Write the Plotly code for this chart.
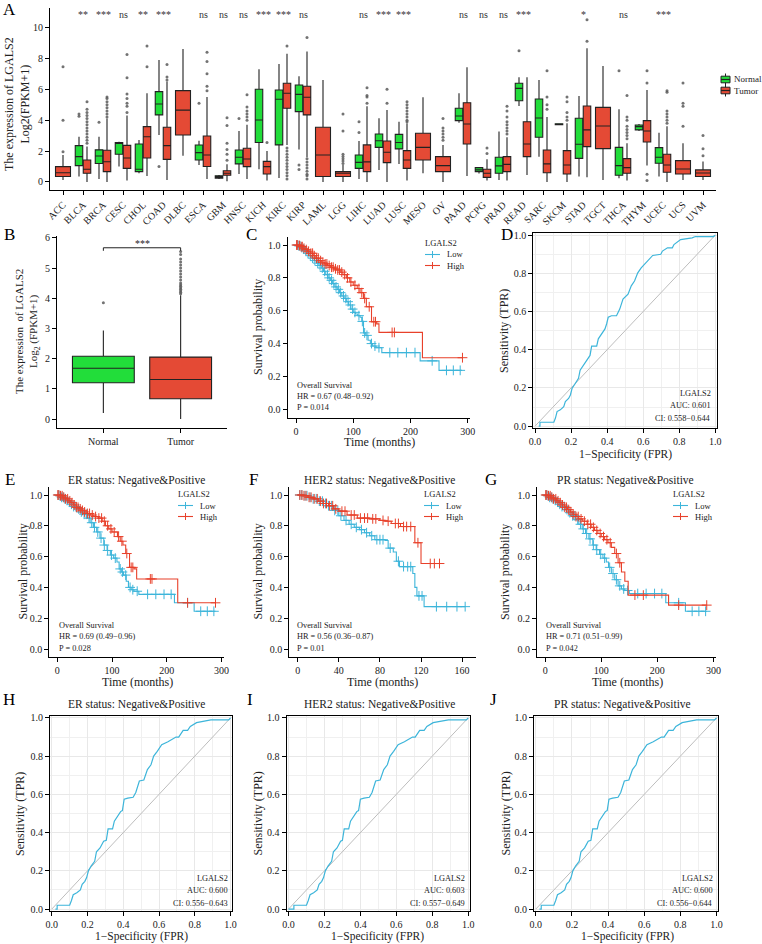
import numpy as np
import plotly.graph_objects as go

W, H = 762, 944
FONT = "Liberation Serif"
GREEN = "#22DD3A"
RED = "#E44A35"
BLUE = "#3DB5DA"
KRED = "#E8412B"

# ---------------- Panel A data ----------------
cancers = ["ACC", "BLCA", "BRCA", "CESC", "CHOL", "COAD", "DLBC", "ESCA", "GBM", "HNSC", "KICH",
           "KIRC", "KIRP", "LAML", "LGG", "LIHC", "LUAD", "LUSC", "MESO", "OV", "PAAD", "PCPG",
           "PRAD", "READ", "SARC", "SKCM", "STAD", "TGCT", "THCA", "THYM", "UCEC", "UCS", "UVM"]
sig = ["", "**", "***", "ns", "**", "***", "", "ns", "ns", "ns", "***", "***", "ns", "", "", "ns",
       "***", "***", "", "", "ns", "ns", "ns", "***", "", "", "*", "", "ns", "", "***", "", ""]

# normal boxes (None = no normal samples)
n_q1 = [None, 1.06, 1.2, 1.79, 0.67, 4.34, None, 1.42, 0.25, 1.17, 2.55, 2.4, 4.55, None, None, 0.88,
        2.24, 2.14, None, None, 3.97, 0.67, 0.56, 5.26, 2.89, 3.7, 1.53, None, 0.43, 3.37, 1.21, None, None]
n_med = [None, 1.64, 1.68, 2.5, 0.82, 5.05, None, 1.9, 0.33, 1.6, 4.01, 5.35, 5.67, None, None, 1.27,
         2.67, 2.55, None, None, 4.27, 0.78, 1.04, 6.06, 4.14, 3.73, 2.44, None, 1.06, 3.58, 1.6, None, None]
n_q3 = [None, 2.35, 2.08, 2.55, 2.46, 5.85, None, 2.39, 0.4, 2.07, 6.0, 5.95, 6.28, None, None, 1.75,
        3.1, 3.08, None, None, 4.77, 0.93, 1.6, 6.39, 5.37, 3.76, 4.12, None, 2.24, 3.69, 2.22, None, None]
n_lo = [None, 0.35, 0.2, 1.0, 0.56, 3.04, None, 1.1, 0.2, 0.52, 0.82, 0.25, 2.1, None, None, 0.2,
        0.78, 1.17, None, None, 3.84, 0.55, 0.13, 4.92, 1.64, 3.7, 0.35, None, 0.24, 3.3, 0.35, None, None]
n_hi = [None, 2.93, 2.93, 2.6, 2.72, 7.9, None, 2.67, 0.45, 3.3, 7.3, 7.64, 6.85, None, None, 2.65,
        4.12, 3.9, None, None, 5.74, 0.95, 3.26, 6.77, 6.6, 3.76, 5.57, None, 4.7, 3.75, 3.19, None, None]
n_out = [[], [4.25, 4.4], [3.86], [], [], [1.0], [], [5.1], [], [4.1], [], [], [0.8, 1.1], [], [],
         [3.2, 3.9], [], [], [], [], [], [], [], [8.5], [], [], [], [], [7.2], [], [], [], []]

# tumor boxes
t_q1 = [0.35, 0.56, 0.67, 0.88, 1.55, 1.46, 3.04, 1.0, 0.43, 0.99, 0.52, 4.77, 4.34, 0.35, 0.35, 0.67,
        1.25, 0.88, 1.42, 0.67, 2.46, 0.3, 0.67, 1.64, 0.6, 0.52, 2.29, 2.16, 0.56, 2.59, 0.63, 0.52, 0.35]
t_med = [0.6, 0.82, 1.31, 1.55, 2.93, 2.35, 4.65, 1.75, 0.56, 1.49, 0.99, 5.74, 5.48, 1.75, 0.56, 1.3,
         1.92, 1.42, 2.24, 1.06, 3.75, 0.56, 1.14, 2.46, 1.17, 1.1, 3.37, 3.62, 0.93, 3.3, 1.1, 0.84, 0.58]
t_q3 = [0.99, 1.42, 2.05, 2.37, 3.58, 3.54, 5.91, 2.98, 0.73, 2.18, 1.33, 6.39, 6.2, 3.54, 0.67, 2.4,
        2.65, 2.03, 3.15, 1.64, 5.13, 0.82, 1.64, 3.9, 2.07, 2.03, 4.92, 4.83, 1.51, 3.97, 1.79, 1.38, 0.78]
t_lo = [0.13, 0.0, 0.0, 0.1, 0.39, 0.13, 1.7, 0.2, 0.05, 0.2, 0.1, 2.4, 1.6, 0.0, 0.0, 0.0,
        0.0, 0.1, 0.56, 0.0, 0.39, 0.1, 0.1, 0.45, 0.0, 0.0, 0.3, 0.13, 0.1, 1.06, 0.0, 0.13, 0.13]
t_hi = [1.75, 2.3, 4.1, 4.3, 5.74, 6.5, 8.6, 5.5, 1.15, 3.7, 2.0, 8.3, 8.45, 6.6, 1.1, 4.9,
        4.66, 3.8, 5.48, 2.4, 7.42, 1.47, 2.9, 6.77, 4.2, 3.8, 8.65, 7.5, 2.5, 5.95, 3.6, 2.5, 1.32]
t_out = [[1.96, 4.0, 7.46],
         [2.5, 2.7, 2.9, 3.1, 3.3, 3.5, 3.7, 3.9, 4.1, 4.3, 4.5, 4.7, 5.2],
         [4.2, 4.4, 4.6, 4.8, 5.0, 5.2, 5.4, 5.5],
         [4.5, 4.9, 5.1, 5.4, 5.7, 6.75, 8.25],
         [7.45, 8.8],
         [6.6, 6.8, 7.6],
         [],
         [5.9, 6.2, 7.0, 7.8, 8.4],
         [1.4, 1.8, 2.1, 2.5, 3.65, 4.15],
         [4.0, 4.2, 4.4, 4.6, 4.85, 5.65],
         [2.55],
         [0.2, 0.4, 0.6, 0.8, 1.0, 1.2, 1.4, 1.6, 1.8, 2.0, 2.2, 8.8],
         [0.2, 0.4, 0.5, 0.7, 0.9, 1.1, 1.3, 1.5, 9.35],
         [],
         [1.2, 1.35, 1.5, 1.65, 1.8, 3.3, 4.4],
         [5.1, 5.5, 5.6, 6.1],
         [5.1, 6.0],
         [3.9, 4.0, 4.2, 4.4, 4.6, 4.8, 5.0, 5.2],
         [],
         [2.7, 2.9, 3.1, 3.3, 3.5, 4.1],
         [],
         [1.85, 2.2],
         [3.1, 3.3, 3.5, 3.7, 3.9, 4.2, 4.6, 4.9],
         [],
         [4.7, 5.0, 5.5, 7.2],
         [4.0, 4.2, 4.5, 5.2, 5.5],
         [9.1, 10.5],
         [],
         [2.8, 3.0, 3.2, 3.4, 3.6, 4.0, 4.2, 5.6],
         [0.1, 0.5, 6.4, 7.2],
         [3.8, 4.0, 4.2, 4.4, 4.6, 5.8, 5.9],
         [3.6, 4.9, 5.1, 6.4],
         [1.7, 2.15, 3.0]]

# ---------------- Panel B data ----------------
b_groups = ["Normal", "Tumor"]
b_q1 = [1.2, 0.67]
b_med = [1.68, 1.31]
b_q3 = [2.08, 2.05]
b_lo = [0.2, 0.0]
b_hi = [2.93, 4.1]
b_out = [[3.85], [4.15, 4.2, 4.25, 4.3, 4.35, 4.4, 4.45, 4.5, 4.6, 4.7, 4.8, 4.9, 5.0, 5.1, 5.2, 5.3, 5.45, 5.55]]

# ---------------- KM data ----------------
c_low_t = [0, 4, 8, 12, 16, 20, 24, 28, 32, 36, 40, 44, 48, 52, 56, 60, 64, 68, 72, 76, 80, 84, 88, 92, 96,
           100, 104, 108, 112, 115, 118, 122, 126, 130, 134, 140, 150, 217, 250, 290]
c_low_s = [1.0, 0.995, 0.985, 0.975, 0.965, 0.95, 0.935, 0.92, 0.905, 0.89, 0.875, 0.86, 0.84, 0.82, 0.8,
           0.785, 0.765, 0.745, 0.73, 0.71, 0.69, 0.675, 0.655, 0.635, 0.61, 0.59, 0.58, 0.57, 0.56, 0.535,
           0.465, 0.45, 0.42, 0.4, 0.385, 0.375, 0.345, 0.295, 0.237, 0.237]
c_low_c = [2, 5, 7, 10, 13, 17, 21, 25, 29, 33, 38, 42, 46, 50, 55, 58, 62, 66, 70, 74, 78, 83, 87, 91, 95,
           99, 103, 110, 116, 120, 124, 132, 138, 145, 164, 178, 193, 208, 238, 263, 275, 287]
c_high_t = [0, 4, 8, 12, 16, 20, 25, 30, 35, 40, 45, 50, 55, 60, 66, 72, 77, 82, 88, 94, 100, 107, 112,
            118, 123, 132, 141, 145, 221, 291]
c_high_s = [1.0, 0.997, 0.99, 0.98, 0.972, 0.962, 0.95, 0.935, 0.92, 0.905, 0.895, 0.885, 0.875, 0.865,
            0.855, 0.848, 0.835, 0.82, 0.8, 0.775, 0.755, 0.735, 0.71, 0.675, 0.624, 0.533, 0.52, 0.468,
            0.314, 0.314]
c_high_c = [1, 3, 6, 9, 11, 14, 18, 22, 26, 29, 32, 36, 39, 43, 47, 51, 54, 58, 62, 65, 69, 73, 76, 80, 85,
            90, 96, 103, 110, 115, 120, 128, 136, 139, 168, 172, 291]

e_low_t = [0, 4, 8, 12, 16, 20, 25, 30, 36, 42, 48, 54, 60, 66, 72, 78, 85, 91, 97, 103, 109, 113, 117,
           121, 126, 130, 135, 140, 149, 214, 250, 289]
e_low_s = [1.0, 0.995, 0.985, 0.975, 0.965, 0.955, 0.94, 0.925, 0.91, 0.89, 0.875, 0.85, 0.82, 0.79,
           0.76, 0.72, 0.675, 0.64, 0.61, 0.59, 0.565, 0.52, 0.5, 0.48, 0.44, 0.4, 0.385, 0.375, 0.355,
           0.3, 0.245, 0.245]
e_low_c = [2, 5, 8, 11, 14, 18, 22, 26, 30, 34, 39, 44, 49, 53, 58, 63, 68, 74, 80, 86, 92, 99, 106, 115,
           119, 125, 133, 138, 146, 165, 180, 195, 208, 238, 262, 274, 286]
e_high_t = [0, 5, 10, 15, 20, 25, 30, 35, 40, 45, 50, 55, 60, 67, 75, 82, 88, 94, 100, 110, 115, 120,
            125, 132, 140, 145, 220, 289]
e_high_s = [1.0, 0.995, 0.985, 0.975, 0.962, 0.95, 0.935, 0.92, 0.91, 0.9, 0.89, 0.88, 0.87, 0.86, 0.85,
            0.83, 0.8, 0.78, 0.76, 0.73, 0.7, 0.675, 0.62, 0.53, 0.52, 0.455, 0.3, 0.3]
e_high_c = [1, 3, 6, 9, 12, 15, 19, 23, 27, 31, 35, 38, 42, 46, 50, 55, 59, 64, 70, 76, 81, 86, 92, 98,
            104, 112, 118, 127, 135, 138, 170, 173, 238, 289]

f_low_t = [0, 5, 10, 15, 20, 25, 30, 35, 40, 45, 50, 55, 60, 65, 70, 75, 85, 88, 93, 96, 99, 112, 114,
           116, 123, 163]
f_low_s = [1.0, 0.995, 0.985, 0.975, 0.96, 0.945, 0.93, 0.9, 0.865, 0.835, 0.81, 0.79, 0.775, 0.755,
           0.735, 0.71, 0.705, 0.655, 0.63, 0.57, 0.535, 0.49, 0.4, 0.345, 0.275, 0.275]
f_low_c = [2, 4, 7, 9, 12, 15, 18, 21, 24, 27, 30, 33, 36, 39, 42, 47, 52, 57, 62, 67, 72, 77, 80, 83, 90,
           98, 103, 107, 110, 118, 121, 135, 145, 155, 163]
f_high_t = [0, 5, 10, 15, 20, 25, 30, 35, 40, 48, 58, 70, 80, 85, 91, 100, 114, 120, 138]
f_high_s = [1.0, 0.995, 0.985, 0.975, 0.96, 0.945, 0.93, 0.91, 0.895, 0.87, 0.85, 0.845, 0.835, 0.83,
            0.815, 0.795, 0.69, 0.555, 0.555]
f_high_c = [2, 4, 6, 8, 11, 13, 16, 19, 22, 25, 28, 31, 34, 37, 43, 46, 52, 55, 61, 65, 68, 73, 76, 83, 88,
            95, 98, 103, 106, 110, 117, 129, 133, 138]

g_low_t = [0, 4, 8, 12, 16, 20, 25, 30, 36, 42, 48, 54, 60, 66, 72, 78, 85, 91, 97, 103, 109, 113, 118,
           124, 130, 136, 142, 150, 215, 250, 288]
g_low_s = [1.0, 0.995, 0.985, 0.975, 0.965, 0.955, 0.94, 0.925, 0.905, 0.885, 0.865, 0.84, 0.81, 0.78,
           0.75, 0.715, 0.675, 0.645, 0.615, 0.59, 0.565, 0.53, 0.49, 0.45, 0.41, 0.39, 0.38, 0.36, 0.3,
           0.245, 0.245]
g_low_c = [2, 5, 8, 11, 14, 18, 22, 26, 30, 34, 39, 44, 49, 53, 58, 63, 68, 74, 80, 86, 92, 99, 106, 115,
           121, 127, 133, 140, 147, 165, 180, 195, 208, 238, 262, 274, 286]
g_high_t = [0, 5, 10, 15, 20, 25, 30, 35, 40, 45, 50, 55, 60, 67, 75, 82, 88, 94, 100, 106, 112, 118,
            124, 130, 136, 142, 148, 220, 288]
g_high_s = [1.0, 0.995, 0.985, 0.975, 0.962, 0.95, 0.935, 0.92, 0.905, 0.89, 0.875, 0.86, 0.845, 0.83,
            0.81, 0.79, 0.77, 0.75, 0.73, 0.71, 0.69, 0.66, 0.62, 0.56, 0.5, 0.44, 0.35, 0.285, 0.285]
g_high_c = [1, 3, 6, 9, 12, 15, 19, 23, 27, 31, 35, 38, 42, 46, 50, 55, 59, 64, 70, 76, 81, 86, 92, 98,
            104, 110, 116, 127, 133, 160, 175, 238, 288]

km_stats = {
    "C": ["Overall Survival", "HR = 0.67 (0.48\u22120.92)", "P = 0.014"],
    "E": ["Overall Survival", "HR = 0.69 (0.49\u22120.96)", "P = 0.028"],
    "F": ["Overall Survival", "HR = 0.56 (0.36\u22120.87)", "P = 0.01"],
    "G": ["Overall Survival", "HR = 0.71 (0.51\u22120.99)", "P = 0.042"],
}

# ---------------- ROC data ----------------
diag = [0, 1]
d_fpr = [0.02, 0.027, 0.027, 0.104, 0.113, 0.122, 0.14, 0.159, 0.168, 0.186, 0.196, 0.205, 0.223, 0.241,
         0.25, 0.269, 0.29, 0.305, 0.314, 0.342, 0.351, 0.37, 0.388, 0.397, 0.406, 0.424, 0.452, 0.47,
         0.488, 0.516, 0.534, 0.552, 0.57, 0.589, 0.616, 0.653, 0.698, 0.707, 0.735, 0.762, 0.771, 0.808,
         0.872, 0.89, 0.99, 1.0]
d_tpr = [0.0, 0.0, 0.02, 0.02, 0.042, 0.076, 0.085, 0.102, 0.128, 0.145, 0.163, 0.197, 0.223, 0.25, 0.293,
         0.319, 0.353, 0.37, 0.419, 0.419, 0.457, 0.483, 0.509, 0.535, 0.57, 0.578, 0.578, 0.613, 0.665,
         0.691, 0.735, 0.76, 0.803, 0.829, 0.856, 0.894, 0.9, 0.917, 0.934, 0.934, 0.951, 0.977, 0.986,
         0.993, 0.993, 1.0]
h_fpr = [0.02, 0.03, 0.03, 0.1, 0.11, 0.12, 0.14, 0.16, 0.17, 0.185, 0.195, 0.205, 0.22, 0.24, 0.25, 0.27,
         0.29, 0.305, 0.315, 0.34, 0.35, 0.37, 0.385, 0.395, 0.405, 0.425, 0.455, 0.47, 0.49, 0.515, 0.535,
         0.555, 0.57, 0.59, 0.615, 0.65, 0.695, 0.71, 0.735, 0.76, 0.775, 0.81, 0.87, 0.89, 0.99, 1.0]
h_tpr = [0.0, 0.0, 0.02, 0.02, 0.045, 0.075, 0.085, 0.1, 0.13, 0.145, 0.165, 0.2, 0.225, 0.25, 0.3, 0.32,
         0.355, 0.36, 0.42, 0.42, 0.46, 0.485, 0.51, 0.515, 0.575, 0.58, 0.585, 0.61, 0.67, 0.675, 0.73,
         0.755, 0.8, 0.825, 0.86, 0.875, 0.9, 0.9, 0.935, 0.935, 0.955, 0.975, 0.985, 0.99, 0.99, 1.0]
i_fpr = [0.0, 0.03, 0.03, 0.1, 0.11, 0.12, 0.14, 0.16, 0.17, 0.185, 0.195, 0.205, 0.22, 0.24, 0.25, 0.27,
         0.29, 0.3, 0.31, 0.335, 0.345, 0.365, 0.38, 0.39, 0.4, 0.42, 0.45, 0.465, 0.485, 0.51, 0.53,
         0.55, 0.565, 0.585, 0.61, 0.645, 0.69, 0.705, 0.73, 0.755, 0.77, 0.805, 0.87, 0.89, 0.99, 1.0]
i_tpr = [0.0, 0.0, 0.02, 0.02, 0.045, 0.075, 0.085, 0.1, 0.13, 0.145, 0.165, 0.2, 0.225, 0.25, 0.3, 0.32,
         0.355, 0.36, 0.42, 0.42, 0.46, 0.485, 0.51, 0.515, 0.575, 0.58, 0.585, 0.61, 0.67, 0.675, 0.73,
         0.755, 0.8, 0.825, 0.86, 0.875, 0.9, 0.9, 0.935, 0.935, 0.955, 0.975, 0.985, 0.99, 0.99, 1.0]
j_fpr = [0.02, 0.03, 0.03, 0.1, 0.11, 0.12, 0.14, 0.16, 0.17, 0.185, 0.195, 0.205, 0.22, 0.24, 0.25, 0.27,
         0.29, 0.305, 0.315, 0.34, 0.35, 0.37, 0.385, 0.395, 0.405, 0.425, 0.455, 0.47, 0.49, 0.515, 0.535,
         0.555, 0.57, 0.59, 0.615, 0.65, 0.695, 0.71, 0.735, 0.76, 0.775, 0.81, 0.87, 0.89, 0.99, 1.0]
j_tpr = [0.0, 0.0, 0.02, 0.02, 0.045, 0.075, 0.085, 0.1, 0.13, 0.145, 0.165, 0.2, 0.225, 0.25, 0.3, 0.32,
         0.355, 0.36, 0.42, 0.42, 0.46, 0.485, 0.51, 0.515, 0.575, 0.58, 0.585, 0.61, 0.67, 0.675, 0.73,
         0.755, 0.8, 0.825, 0.86, 0.875, 0.9, 0.9, 0.935, 0.935, 0.955, 0.975, 0.985, 0.99, 0.99, 1.0]
roc_stats = {
    "D": ["LGALS2", "AUC: 0.601", "CI: 0.558\u22120.644"],
    "H": ["LGALS2", "AUC: 0.600", "CI: 0.556\u22120.643"],
    "I": ["LGALS2", "AUC: 0.603", "CI: 0.557\u22120.649"],
    "J": ["LGALS2", "AUC: 0.600", "CI: 0.556\u22120.644"],
}


# ---------------- helpers ----------------
def px(x):
    return x / W


def py(y):
    return 1 - y / H


def xdom(a, b):
    return [a / W, b / W]


def ydom(top, bottom):
    return [1 - bottom / H, 1 - top / H]


fig = go.Figure()
annotations = []
shapes = []


def txt(x, y, s, size, anchor="left", color="#222", angle=0):
    annotations.append(dict(x=px(x), y=py(y), xref="paper", yref="paper", text=s, showarrow=False,
                            xanchor=anchor, yanchor="middle", textangle=angle, borderpad=0,
                            font=dict(size=size, color=color, family=FONT)))


def axis(dom, **kw):
    d = dict(domain=dom, showline=True, linecolor="black", linewidth=1.2, ticks="outside", ticklen=4,
             tickcolor="black", tickwidth=1, showgrid=False, zeroline=False, automargin=False,
             tickfont=dict(size=10, color="#222"), fixedrange=True)
    d.update(kw)
    return d


box_line = dict(color="#222", width=1.1)
out_marker = dict(color="rgba(90,90,90,0.85)", size=3)

# ---------------- Panel A ----------------
idx = np.arange(len(cancers))
paired = [i for i in idx if n_q1[i] is not None]
single = [i for i in idx if n_q1[i] is None]
off = 0.2

fig.add_trace(go.Box(x=[i - off for i in paired], q1=[n_q1[i] for i in paired], median=[n_med[i] for i in paired],
                     q3=[n_q3[i] for i in paired], lowerfence=[n_lo[i] for i in paired],
                     upperfence=[n_hi[i] for i in paired], width=0.375, fillcolor=GREEN, line=box_line,
                     whiskerwidth=0, boxpoints=False, xaxis="x", yaxis="y", showlegend=False))
fig.add_trace(go.Box(x=[i + off for i in paired], q1=[t_q1[i] for i in paired], median=[t_med[i] for i in paired],
                     q3=[t_q3[i] for i in paired], lowerfence=[t_lo[i] for i in paired],
                     upperfence=[t_hi[i] for i in paired], width=0.375, fillcolor=RED, line=box_line,
                     whiskerwidth=0, boxpoints=False, xaxis="x", yaxis="y", showlegend=False))
fig.add_trace(go.Box(x=single, q1=[t_q1[i] for i in single], median=[t_med[i] for i in single],
                     q3=[t_q3[i] for i in single], lowerfence=[t_lo[i] for i in single],
                     upperfence=[t_hi[i] for i in single], width=0.75, fillcolor=RED, line=box_line,
                     whiskerwidth=0, boxpoints=False, xaxis="x", yaxis="y", showlegend=False))

ox, oy = [], []
for i in idx:
    shift_t = off if n_q1[i] is not None else 0
    for v in n_out[i]:
        ox.append(i - off)
        oy.append(v)
    for v in t_out[i]:
        ox.append(i + shift_t)
        oy.append(v)
fig.add_trace(go.Scatter(x=ox, y=oy, mode="markers", marker=out_marker, xaxis="x", yaxis="y", showlegend=False))

for i in idx:
    if sig[i]:
        annotations.append(dict(x=i, y=10.85, xref="x", yref="y", text=sig[i], showarrow=False,
                                font=dict(size=10, color="#333", family=FONT)))

# legend of A
for col, name, yc in [(GREEN, "Normal", 79.5), (RED, "Tumor", 90.5)]:
    shapes.append(dict(type="line", xref="paper", yref="paper", x0=px(725.5), x1=px(725.5), y0=py(yc - 6),
                       y1=py(yc + 6), line=dict(color="#222", width=1)))
    shapes.append(dict(type="rect", xref="paper", yref="paper", x0=px(721), x1=px(730), y0=py(yc - 3.3),
                       y1=py(yc + 3.3), fillcolor=col, line=dict(color="#222", width=1)))
    shapes.append(dict(type="line", xref="paper", yref="paper", x0=px(721), x1=px(730), y0=py(yc),
                       y1=py(yc), line=dict(color="#222", width=1.2)))
    txt(733, yc, name, 9)

# ---------------- Panel B ----------------
for g, col in enumerate([GREEN, RED]):
    fig.add_trace(go.Box(x=[g + 1], q1=[b_q1[g]], median=[b_med[g]], q3=[b_q3[g]], lowerfence=[b_lo[g]],
                         upperfence=[b_hi[g]], width=0.8, fillcolor=col, line=box_line, whiskerwidth=0,
                         boxpoints=False, xaxis="x2", yaxis="y2", showlegend=False))
bx, by = [], []
for g, vals in enumerate(b_out):
    bx += [g + 1] * len(vals)
    by += vals
fig.add_trace(go.Scatter(x=bx, y=by, mode="markers", marker=out_marker, xaxis="x2", yaxis="y2", showlegend=False))
top = max(max(v) for v in b_out) + 0.12
fig.add_trace(go.Scatter(x=[1, 1, 2, 2], y=[top - 0.1, top, top, top - 0.1], mode="lines",
                         line=dict(color="#222", width=1), xaxis="x2", yaxis="y2", showlegend=False))
annotations.append(dict(x=1.5, y=top, xref="x2", yref="y2", text="***", showarrow=False, yanchor="bottom",
                        yshift=-3, font=dict(size=10, color="#222", family=FONT)))


# ---------------- KM panels ----------------
def km(t, s, cens, color, xa, ya):
    fig.add_trace(go.Scatter(x=t, y=s, mode="lines", line=dict(color=color, width=1.1, shape="hv"),
                             xaxis=xa, yaxis=ya, showlegend=False))
    tt = np.array(t)
    cy = [s[int(np.searchsorted(tt, c, side="right")) - 1] for c in cens]
    fig.add_trace(go.Scatter(x=cens, y=cy, mode="markers",
                             marker=dict(symbol="cross-thin", size=7, line=dict(color=color, width=1)),
                             xaxis=xa, yaxis=ya, showlegend=False))


def km_legend(x0, yt):
    txt(x0, yt, "LGALS2", 8.5)
    for col, name, dy in [(BLUE, "Low", 11.5), (KRED, "High", 22.5)]:
        y = yt + dy
        shapes.append(dict(type="line", xref="paper", yref="paper", x0=px(x0 + 1), x1=px(x0 + 16), y0=py(y),
                           y1=py(y), line=dict(color=col, width=1.1)))
        shapes.append(dict(type="line", xref="paper", yref="paper", x0=px(x0 + 8.5), x1=px(x0 + 8.5),
                           y0=py(y - 3.5), y1=py(y + 3.5), line=dict(color=col, width=1)))
        txt(x0 + 22, y, name, 8.5)


def km_text(key, x, y):
    for k, line in enumerate(km_stats[key]):
        txt(x, y + k * 11.5, line, 8.3)


km(c_low_t, c_low_s, c_low_c, BLUE, "x3", "y3")
km(c_high_t, c_high_s, c_high_c, KRED, "x3", "y3")
km(e_low_t, e_low_s, e_low_c, BLUE, "x5", "y5")
km(e_high_t, e_high_s, e_high_c, KRED, "x5", "y5")
km(f_low_t, f_low_s, f_low_c, BLUE, "x6", "y6")
km(f_high_t, f_high_s, f_high_c, KRED, "x6", "y6")
km(g_low_t, g_low_s, g_low_c, BLUE, "x7", "y7")
km(g_high_t, g_high_s, g_high_c, KRED, "x7", "y7")

km_legend(424, 243)
km_legend(177, 494)
km_legend(423, 494)
km_legend(672, 494)
km_text("C", 296, 385)
km_text("E", 57.5, 625)
km_text("F", 296, 625)
km_text("G", 545, 625)


# ---------------- ROC panels ----------------
def roc(fpr, tpr, xa, ya):
    fig.add_trace(go.Scatter(x=diag, y=diag, mode="lines", line=dict(color="#BDBDBD", width=1),
                             xaxis=xa, yaxis=ya, showlegend=False))
    fig.add_trace(go.Scatter(x=fpr, y=tpr, mode="lines", line=dict(color=BLUE, width=1.2),
                             xaxis=xa, yaxis=ya, showlegend=False))


def roc_text(key, xr, y):
    for k, line in enumerate(roc_stats[key]):
        txt(xr, y + k * 12.3, line, 8.3, anchor="right")


roc(d_fpr, d_tpr, "x4", "y4")
roc(h_fpr, h_tpr, "x8", "y8")
roc(i_fpr, i_tpr, "x9", "y9")
roc(j_fpr, j_tpr, "x10", "y10")
roc_text("D", 712, 393.5)
roc_text("H", 229, 878.5)
roc_text("I", 466, 878.5)
roc_text("J", 714, 878.5)

# ---------------- titles, axis titles & letters ----------------
for L, x, y in [("A", 9, 9), ("B", 9, 234), ("C", 251, 234), ("D", 507, 234), ("E", 10, 479),
                ("F", 253, 479), ("G", 491, 479), ("H", 9, 699), ("I", 250, 699), ("J", 493, 699)]:
    txt(x, y, L, 17, anchor="center", color="black")
for x, y, s in [(136, 480, "ER status: Negative&Positive"), (379, 480, "HER2 status: Negative&Positive"),
                (625, 480, "PR status: Negative&Positive"), (136, 704, "ER status: Negative&Positive"),
                (379, 704, "HER2 status: Negative&Positive"), (622, 704, "PR status: Negative&Positive")]:
    txt(x, y, s, 11.5, anchor="center")

txt(17, 104, "The expression of LGALS2<br>Log2(FPKM+1)", 12, anchor="center", angle=-90)
txt(28, 332, "The expression  of LGALS2<br>Log<sub>2</sub> (FPKM+1)", 11, anchor="center", angle=-90)
for x, y in [(258, 327), (22.5, 572), (257.5, 572), (505, 572)]:
    txt(x, y, "Survival probability", 12, anchor="center", angle=-90)
for x, y in [(379, 442), (137, 682), (382, 682), (627, 682)]:
    txt(x, y, "Time (months)", 12, anchor="center")
for x, y in [(504, 331), (20, 814), (257.5, 814), (505.5, 814)]:
    txt(x, y, "Sensitivity (TPR)", 12, anchor="center", angle=-90)
for x, y in [(625, 454.5), (141, 936), (377, 936), (627, 936)]:
    txt(x, y, "1\u2212Specificity (FPR)", 11.5, anchor="center")

# ---------------- layout ----------------
km_y = dict(range=[-0.05, 1.05], tickvals=[0, 0.2, 0.4, 0.6, 0.8, 1.0], tickformat=".1f")
km_x = dict(range=[-14.5, 304.5], tickvals=[0, 100, 200, 300])
roc_ax = dict(range=[-0.01, 1.01], tickvals=[0, 0.2, 0.4, 0.6, 0.8, 1.0], tickformat=".1f", mirror=True,
              showgrid=True, gridcolor="#E8E8E8", gridwidth=1,
              minor=dict(dtick=0.1, showgrid=True, gridcolor="#F0F0F0", gridwidth=0.7, ticks=""))

row2 = ydom(487.3, 656.7)
row3 = ydom(716, 911)

fig.update_layout(
    width=W, height=H, margin=dict(l=0, r=0, t=0, b=0), paper_bgcolor="white", plot_bgcolor="white",
    font=dict(family=FONT, color="#222"),
    xaxis=axis(xdom(50, 716), anchor="y", range=[-0.65, 32.65], tickvals=list(idx), ticktext=cancers,
               tickangle=-45),
    yaxis=axis(ydom(8, 190), anchor="x", range=[-0.52, 11.26], tickvals=[0, 2, 4, 6, 8, 10]),
    xaxis2=axis(xdom(57, 227), anchor="y2", range=[0.4, 2.6], tickvals=[1, 2], ticktext=b_groups),
    yaxis2=axis(ydom(236.3, 427.5), anchor="x2", range=[-0.28, 6.05], tickvals=[0, 1, 2, 3, 4, 5, 6]),
    xaxis3=axis(xdom(287.7, 470.2), anchor="y3", **km_x),
    yaxis3=axis(ydom(236.8, 417.5), anchor="x3", **km_y),
    xaxis4=axis(xdom(533.3, 717), anchor="y4", **roc_ax),
    yaxis4=axis(ydom(233.3, 428), anchor="x4", **roc_ax),
    xaxis5=axis(xdom(49.3, 224), anchor="y5", **km_x),
    yaxis5=axis(row2, anchor="x5", **km_y),
    xaxis6=axis(xdom(289.3, 475.7), anchor="y6", range=[-8.25, 173.25], tickvals=[0, 40, 80, 120, 160]),
    yaxis6=axis(row2, anchor="x6", **km_y),
    xaxis7=axis(xdom(537, 716), anchor="y7", **km_x),
    yaxis7=axis(row2, anchor="x7", **km_y),
    xaxis8=axis(xdom(50, 232.3), anchor="y8", **roc_ax),
    yaxis8=axis(row3, anchor="x8", **roc_ax),
    xaxis9=axis(xdom(286.7, 470), anchor="y9", **roc_ax),
    yaxis9=axis(row3, anchor="x9", **roc_ax),
    xaxis10=axis(xdom(534, 718.3), anchor="y10", **roc_ax),
    yaxis10=axis(row3, anchor="x10", **roc_ax),
    annotations=annotations,
    shapes=shapes,
)

fig.write_html("out.html", config={"displayModeBar": False},
               post_script="document.body.style.margin='0px';")
